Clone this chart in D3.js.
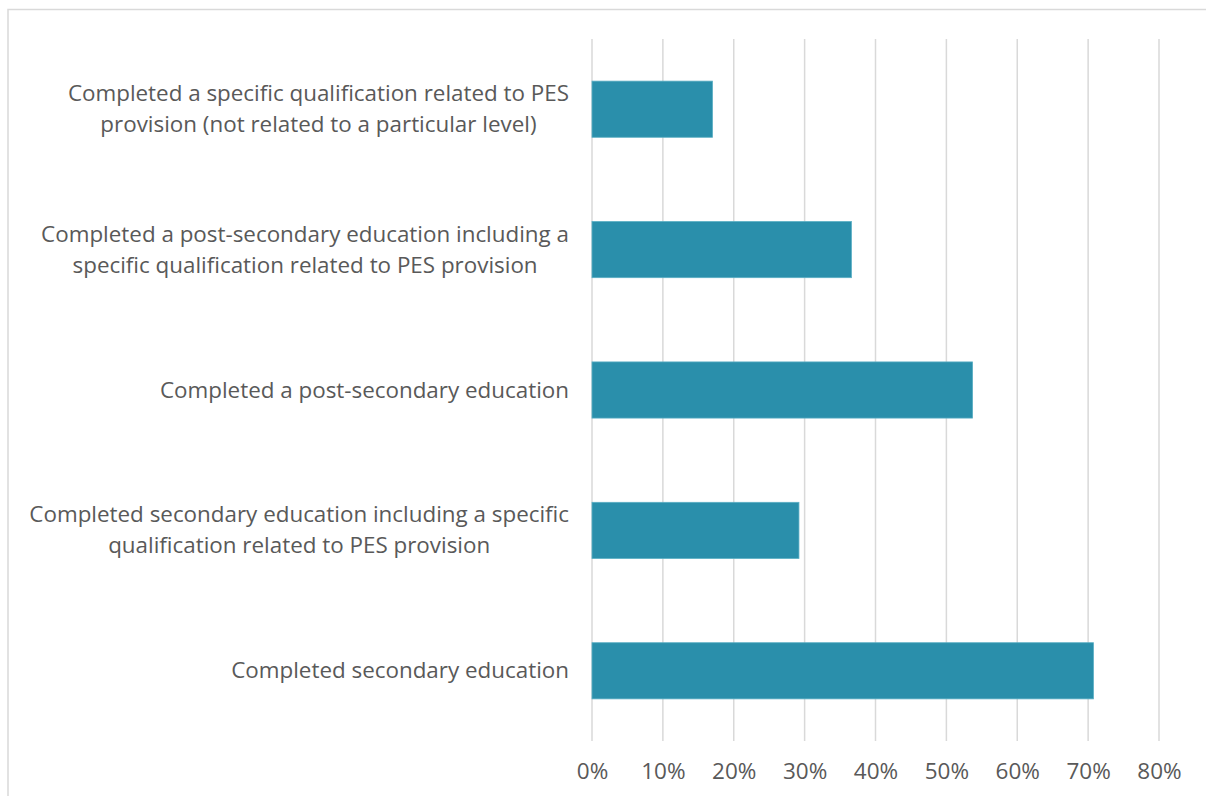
<!DOCTYPE html>
<html>
<head>
<meta charset="utf-8">
<script src="https://cdn.jsdelivr.net/npm/d3@7"></script>
<style>
  body { margin: 0; background: #fff; }
  svg text { font-family: "Open Sans", sans-serif; fill: #595959; }
</style>
</head>
<body>
<div id="chart"></div>
<script>
// categories top to bottom, each label split into its lines
var categories = [
    ["Completed a specific qualification related to PES", "provision (not related to a particular level)"],
    ["Completed a post-secondary education including a", "specific qualification related to PES provision"],
    ["Completed a post-secondary education"],
    ["Completed secondary education including a specific", "qualification related to PES provision"],
    ["Completed secondary education"]
];
var values = [0.170, 0.366, 0.537, 0.292, 0.7075];
var ticks = [0, 0.1, 0.2, 0.3, 0.4, 0.5, 0.6, 0.7, 0.8];

var width = 1206, height = 796;
var margin = {top: 39, right: 47, bottom: 55, left: 592};
var labelRight = 569;

var svg = d3.select("#chart").append("svg")
    .attr("width", width)
    .attr("height", height);

// chart frame (only top and left edges are in view)
svg.append("rect")
    .attr("x", 8).attr("y", 9.5)
    .attr("width", 1300).attr("height", 900)
    .attr("fill", "none")
    .attr("stroke", "#d9d9d9")
    .attr("stroke-width", 1.5);

var x = d3.scaleLinear()
    .domain([0, 0.8])
    .range([margin.left, width - margin.right]);

var y = d3.scaleBand()
    .domain(d3.range(categories.length))
    .range([margin.top, height - margin.bottom])
    .paddingInner(0.6)
    .paddingOuter(0.3);

// gridlines
svg.append("g")
    .selectAll("line")
    .data(ticks)
    .enter()
    .append("line")
    .attr("x1", function(d) { return x(d); })
    .attr("x2", function(d) { return x(d); })
    .attr("y1", margin.top)
    .attr("y2", height - margin.bottom)
    .attr("stroke", "#d9d9d9")
    .attr("stroke-width", 1.5);

// bars
svg.append("g")
    .selectAll("rect")
    .data(values)
    .enter()
    .append("rect")
    .attr("x", x(0))
    .attr("y", function(d, i) { return y(i); })
    .attr("width", function(d) { return x(d) - x(0); })
    .attr("height", y.bandwidth())
    .attr("fill", "#2a8fab")
    .attr("stroke", "#5aaec4")
    .attr("stroke-width", 0.8);

// x axis labels
var xAxis = svg.append("g")
    .attr("transform", "translate(0," + (height - margin.bottom) + ")")
    .call(d3.axisBottom(x).tickValues(ticks).tickFormat(d3.format(".0%")).tickSize(0).tickPadding(22));
xAxis.select(".domain").remove();
xAxis.selectAll("text")
    .style("font-size", "22.5px")
    .attr("fill", "#595959");

// category labels: lines centred on each other, block right-aligned to labelRight
var labels = svg.append("g")
    .selectAll("text")
    .data(categories)
    .enter()
    .append("text")
    .attr("text-anchor", "middle")
    .attr("y", function(d, i) { return y(i) + y.bandwidth() / 2; })
    .style("font-size", "22.4px");

labels.selectAll("tspan")
    .data(function(d) { return d; })
    .enter()
    .append("tspan")
    .attr("dy", function(d, j, nodes) {
        var n = nodes.length;
        if (j == 0) return (-(n - 1) * 31 / 2 + 7.5) + "px";
        return "31px";
    })
    .text(function(d) { return d; });

labels.each(function() {
    var spans = d3.select(this).selectAll("tspan");
    var widest = 0;
    spans.each(function() { widest = Math.max(widest, this.getComputedTextLength()); });
    spans.attr("x", labelRight - widest / 2);
});
</script>
</body>
</html>
